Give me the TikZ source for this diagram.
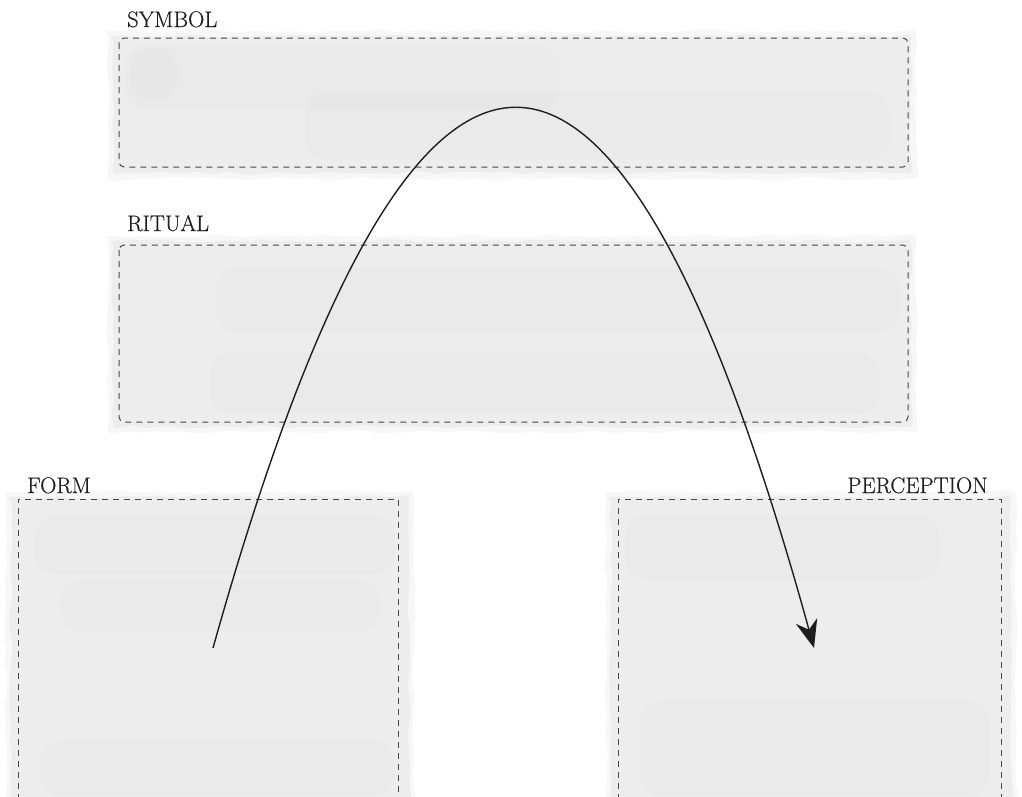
\documentclass[tikz,border=0pt]{standalone}
\usepackage{fontspec}
\usetikzlibrary{arrows.meta,decorations.pathmorphing}
\newfontfamily\capfont{Latin Modern Roman}[FakeBold=0.45]
\definecolor{washgray}{HTML}{EDEDED}
\definecolor{framegray}{HTML}{474747}
\definecolor{inkgray}{HTML}{1E1E1E}
\begin{document}
\begin{tikzpicture}[x=1pt,y=-1pt,
  wash/.style={fill=washgray, draw=none, rounded corners=4pt, decorate,
    decoration={random steps, segment length=14pt, amplitude=1.8pt}},
  halo/.style={wash, fill opacity=0.45},
  streak/.style={fill=black, fill opacity=0.013, draw=none, rounded corners=22pt},
  frame/.style={draw=framegray, line width=1pt, dash pattern=on 6pt off 5pt},
  caption/.style={font=\capfont\fontsize{22.5}{26}\selectfont, text=inkgray, inner sep=0pt},
  flow/.style={draw=inkgray, line width=1.4pt,
    -{Stealth[length=28pt,width=22pt,inset=9pt]}}]
\useasboundingbox (0,0) rectangle (1022,796);
\pgfmathsetseed{7}

% --- watercolour washes behind the frames
\fill[halo] (108,31) rectangle (916,179);
\fill[wash] (113,36) rectangle (911,173);
\fill[streak] (125,45) rectangle (560,110);
\fill[streak] (305,92) rectangle (890,160);
\fill[streak] (130,48) rectangle (178,100);

\fill[halo] (108,236) rectangle (916,432);
\fill[wash] (113,241) rectangle (911,427);
\fill[streak] (215,268) rectangle (900,332);
\fill[streak] (210,352) rectangle (880,414);

\fill[halo] (6,492) rectangle (414,800);
\fill[wash] (11,497) rectangle (409,800);
\fill[streak] (35,515) rectangle (395,575);
\fill[streak] (60,580) rectangle (380,632);
\fill[streak] (40,740) rectangle (395,796);

\fill[halo] (606,492) rectangle (1016,800);
\fill[wash] (611,497) rectangle (1011,800);
\fill[streak] (625,515) rectangle (940,580);
\fill[streak] (640,700) rectangle (990,796);

% --- layer frames
\draw[frame, rounded corners=5pt] (119,38) rectangle (908,167);
\draw[frame, rounded corners=5pt] (119,245) rectangle (908,422);
\draw[frame] (18,800) -- (18,499) -- (398,499) -- (398,800);
\draw[frame] (618,800) -- (618,499) -- (1001,499) -- (1001,800);

% --- captions
\node[caption, anchor=base west] (symbol) at (127,27) {SYMBOL};
\node[caption, anchor=base west] (ritual) at (127,231) {RITUAL};
\node[caption, anchor=base west] (form) at (27,493) {FORM};
\node[caption, anchor=base east] (perception) at (988,493) {PERCEPTION};

% --- path from form up through the layers and down to perception
\coordinate (formpt) at (213,648);
\coordinate (percpt) at (814,648);
\draw[flow] (formpt) .. controls (414,-70) and (616,-70) .. (percpt);
\end{tikzpicture}
\end{document}
